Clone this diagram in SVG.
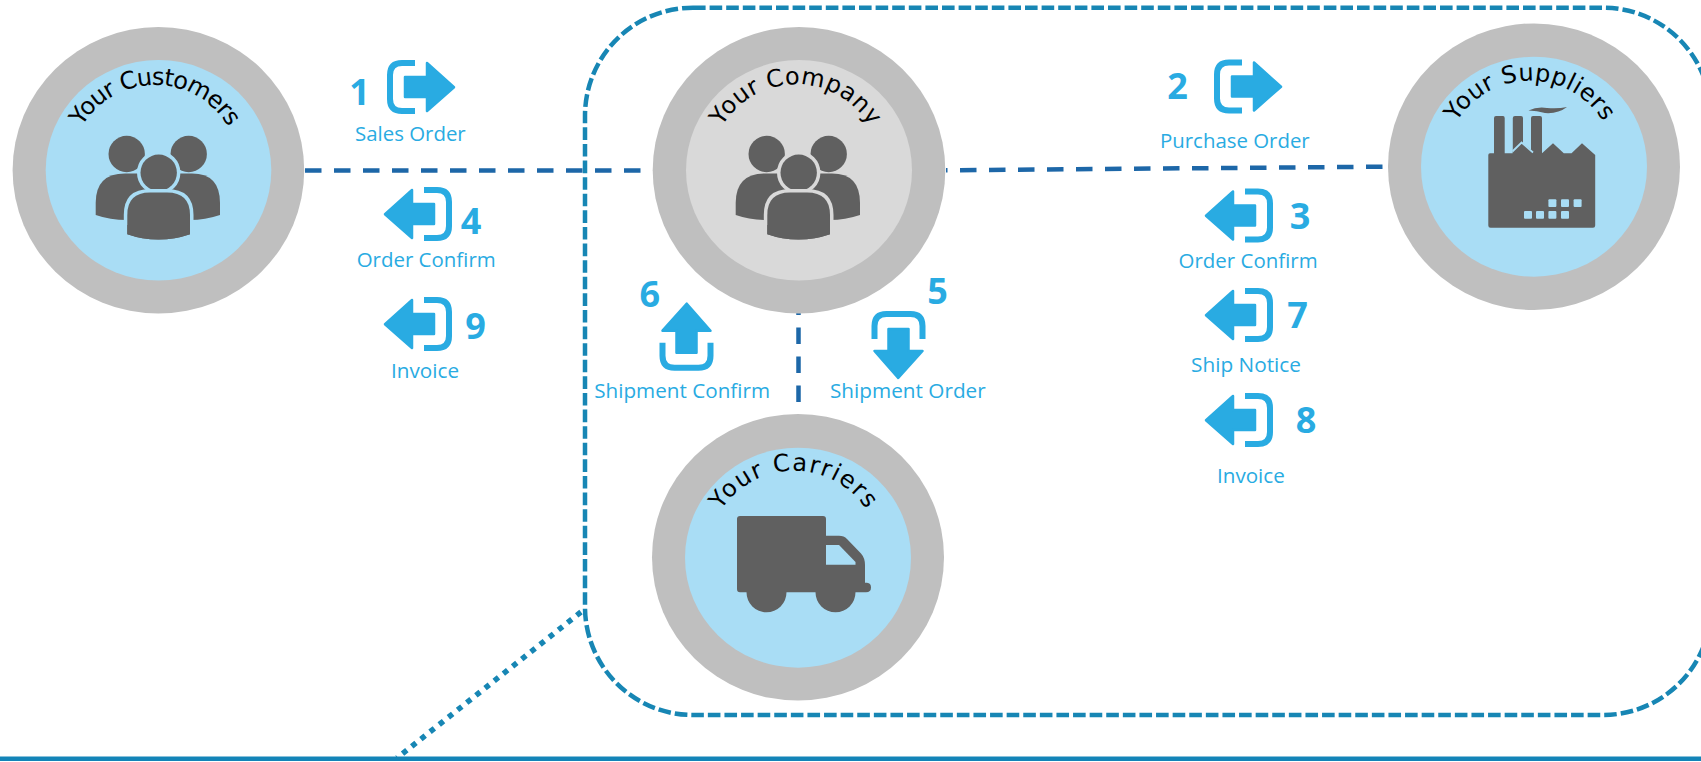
<svg xmlns="http://www.w3.org/2000/svg" xmlns:xlink="http://www.w3.org/1999/xlink" width="1701" height="762" viewBox="0 0 1701 762">
<style>
.outer{fill:#bfbfbf}
.inner{fill:#a9ddf5}
.title{font-family:"DejaVu Sans",sans-serif;font-size:24px;fill:#000}
.num{font-family:"Open Sans","Noto Sans",sans-serif;font-weight:700;font-size:36px;fill:#29abe2;text-anchor:middle}
.lab{font-family:"Open Sans","Noto Sans",sans-serif;font-size:20px;fill:#29abe2}
.dark{fill:#606060}
.flow{fill:none;stroke:#1d67a8;stroke-width:4.5;stroke-dasharray:16.5 12.5}
.zone{fill:none;stroke:#1786b4;stroke-width:4.5;stroke-dasharray:12.6 4}
.dots{fill:none;stroke:#1786b4;stroke-width:5.5;stroke-dasharray:5.5 6.2}
.base{fill:none;stroke:#1384b8;stroke-width:4.5}
</style>
<defs>
<g id="flowicon">
<path d="M28,3H15Q3,3 3,15V39Q3,51 15,51H28" fill="none" stroke="#29abe2" stroke-width="6"/>
<path d="M18,17H40V3L67,27.3L40,51V37H18Z" fill="#29abe2" stroke="#29abe2" stroke-width="2.5" stroke-linejoin="round"/>
</g>
<g id="people">
<circle cx="126.7" cy="154" r="18.2" class="dark"/>
<circle cx="188.7" cy="154" r="18.2" class="dark"/>
<path class="dark" d="M95.7,215V203Q95.7,173.5 125,173.5H192Q220,173.5 220,203V215Q205,220 190,220H127Q110,220 95.7,215Z"/>
<circle cx="158.7" cy="172.7" r="18.2" class="dark" stroke="currentColor" stroke-width="7" style="paint-order:stroke"/>
<path class="dark" d="M127.3,234.3V215Q127.3,192.5 150,192.5H167Q190,192.5 190,215V234.3Q175,239.5 158.5,239.5Q142,239.5 127.3,234.3Z" stroke="currentColor" stroke-width="7" style="paint-order:stroke"/>
<path class="dark" d="M127.3,234.3Q142,239.5 158.5,239.5Q175,239.5 190,234.3V225H127.3Z"/>
</g>
<path id="arcCustomers" d="M70,170A85,85 0 0 1 240,170"/>
<path id="arcCompany" d="M710,170.3A86,86 0 0 1 882,170.3"/>
<path id="arcSuppliers" d="M1444,166.7A86,86 0 0 1 1616,166.7"/>
<path id="arcCarriers" d="M707,557.7A87,87 0 0 1 881,557.7"/>
</defs>

<g id="connectors">
<path class="flow" d="M305,170.5H652"/>
<path class="flow" d="M1382.5,166.7L946,170.3"/>
<path class="flow" d="M798.5,402V300"/>
<rect class="zone" x="585" y="7.7" width="1126" height="707.3" rx="108" ry="108"/>
<path class="dots" d="M581,612L397,758"/>
<path class="base" d="M0,758.7H1701"/>
</g>

<g id="node-customers">
<ellipse class="outer" cx="158.4" cy="170.3" rx="145.8" ry="143.3"/>
<ellipse class="inner" cx="158.5" cy="170.3" rx="112.8" ry="110.3"/>
<use href="#people" style="color:#a9ddf5"/>
<text class="title" style="letter-spacing:-0.9px"><textPath href="#arcCustomers" startOffset="50%" text-anchor="middle">Your Customers</textPath></text>
</g>

<g id="node-company">
<ellipse class="outer" cx="799" cy="170.3" rx="146.3" ry="143.3"/>
<ellipse class="inner" style="fill:#d9d9d9" cx="799" cy="170.3" rx="113" ry="110.3"/>
<use href="#people" transform="translate(640,0)" style="color:#d9d9d9"/>
<text class="title" style="letter-spacing:0.4px"><textPath href="#arcCompany" startOffset="50%" text-anchor="middle">Your Company</textPath></text>
</g>

<g id="node-suppliers">
<ellipse class="outer" cx="1534" cy="166.7" rx="146" ry="143.3"/>
<ellipse class="inner" cx="1534" cy="166.7" rx="113" ry="110"/>
<path class="dark" d="M1494,153.3V118Q1494,116 1496,116H1503Q1504.7,116 1504.7,118V153.3H1512.8V118Q1512.8,116 1515,116H1521Q1523,116 1523,118V143.5L1531,150V118Q1531,116 1533,116H1540Q1542,116 1542,118V153.3L1553,143.3L1563.8,153.3H1571.5L1582,143.3L1595.2,155V225.5Q1595.2,227.7 1593,227.7H1490.5Q1488.3,227.7 1488.3,225.5V155Q1488.3,153.3 1490,153.3Z"/>
<path class="dark" d="M1512.8,150L1521.6,142.7L1535,153.3H1542.7V156H1512.8Z"/>
<path d="M1512.4,151.5L1521.6,142.5L1533,152.5" fill="none" stroke="#a9ddf5" stroke-width="1.8"/>
<path class="dark" d="M1528.5,110.5Q1537,106.5 1547,108Q1558,109 1567,107Q1558,114 1545,113Q1537,110.5 1528.5,110.5Z"/>
<g fill="#a9ddf5">
<rect x="1548.4" y="199.3" width="8" height="7.7" rx="1"/><rect x="1561" y="199.3" width="8" height="7.7" rx="1"/><rect x="1573.6" y="199.3" width="8" height="7.7" rx="1"/>
<rect x="1524" y="211" width="8" height="7.7" rx="1"/><rect x="1536" y="211" width="8" height="7.7" rx="1"/><rect x="1548.4" y="211" width="8" height="7.7" rx="1"/><rect x="1561" y="211" width="8" height="7.7" rx="1"/>
</g>
<text class="title" style="letter-spacing:0.4px"><textPath href="#arcSuppliers" startOffset="50%" text-anchor="middle">Your Suppliers</textPath></text>
</g>

<g id="node-carriers">
<ellipse class="outer" cx="798" cy="557.3" rx="146" ry="143.3"/>
<ellipse class="inner" cx="798" cy="557.7" rx="113" ry="110"/>
<path class="dark" d="M737,519Q737,516 740,516H823Q826,516 826,519V535.7H839Q844,535.7 847,539L861,553.5Q865,558 865,565V582.7H867Q871,583 871,587.5Q871,592.3 866,592.3H855.5A20,20 0 0 1 815.5,592.3H786.5A20,20 0 0 1 746.5,592.3H740Q737,592.3 737,589Z"/>
<path d="M826,545H839L855.5,562V564.7H826Z" fill="#a9ddf5"/>
<text class="title" style="letter-spacing:1.5px"><textPath href="#arcCarriers" startOffset="50%" text-anchor="middle">Your Carriers</textPath></text>
</g>

<g id="msg-1"><use href="#flowicon" transform="translate(387,60)"/><text class="num" x="359.5" y="104.5">1</text><text class="lab" x="355" y="141" textLength="110.7" lengthAdjust="spacingAndGlyphs">Sales Order</text></g>
<g id="msg-2"><use href="#flowicon" transform="translate(1214,59.5)"/><text class="num" x="1177.5" y="98.7">2</text><text class="lab" x="1160" y="147.7" textLength="149.7" lengthAdjust="spacingAndGlyphs">Purchase Order</text></g>
<g id="msg-3"><use href="#flowicon" transform="translate(1273,188.5) scale(-1,1)"/><text class="num" x="1300" y="229">3</text><text class="lab" x="1178.6" y="267.7" textLength="139" lengthAdjust="spacingAndGlyphs">Order Confirm</text></g>
<g id="msg-4"><use href="#flowicon" transform="translate(452,187) scale(-1,1)"/><text class="num" x="471" y="234">4</text><text class="lab" x="356.7" y="266.7" textLength="139" lengthAdjust="spacingAndGlyphs">Order Confirm</text></g>
<g id="msg-5"><use href="#flowicon" transform="translate(925.5,311) rotate(90)"/><text class="num" x="937.5" y="304.3">5</text><text class="lab" x="830" y="397.7" textLength="155.7" lengthAdjust="spacingAndGlyphs">Shipment Order</text></g>
<g id="msg-6"><use href="#flowicon" transform="translate(659.5,370.7) rotate(-90)"/><text class="num" x="649.7" y="306.7">6</text><text class="lab" x="594.3" y="397.7" textLength="175.7" lengthAdjust="spacingAndGlyphs">Shipment Confirm</text></g>
<g id="msg-7"><use href="#flowicon" transform="translate(1273,288) scale(-1,1)"/><text class="num" x="1297.5" y="328">7</text><text class="lab" x="1191" y="371.7" textLength="110" lengthAdjust="spacingAndGlyphs">Ship Notice</text></g>
<g id="msg-8"><use href="#flowicon" transform="translate(1273,393) scale(-1,1)"/><text class="num" x="1306" y="433">8</text><text class="lab" x="1217" y="482.7" textLength="67.7" lengthAdjust="spacingAndGlyphs">Invoice</text></g>
<g id="msg-9"><use href="#flowicon" transform="translate(452,297) scale(-1,1)"/><text class="num" x="475.5" y="339">9</text><text class="lab" x="391" y="378.3" textLength="68" lengthAdjust="spacingAndGlyphs">Invoice</text></g>
</svg>
